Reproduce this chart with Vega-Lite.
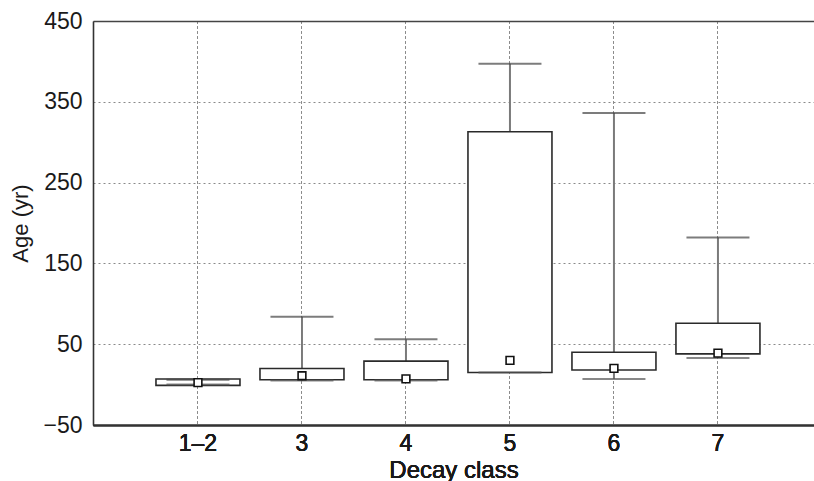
{
  "$schema": "https://vega.github.io/schema/vega-lite/v6.json",
  "autosize": {"type": "none"},
  "width": 721,
  "height": 404,
  "padding": {"left": 93, "top": 21, "right": 0, "bottom": 56},
  "background": "white",
  "config": {
    "view": {"stroke": null},
    "font": "Liberation Sans",
    "axis": {
      "labelFont": "Liberation Sans",
      "titleFont": "Liberation Sans",
      "labelColor": "#1a1a1a",
      "titleColor": "#1a1a1a",
      "labelFontSize": 23,
      "titleFontSize": 22,
      "titleFontWeight": "normal",
      "domainColor": "#333333",
      "domainWidth": 1.6,
      "gridColor": "#8a8a8a",
      "gridDash": [2, 3],
      "gridWidth": 1,
      "ticks": false
    }
  },
  "data": {
    "values": [
      {"cls": "1–2", "min": 0, "q1": -1, "med": 2.5, "q3": 7, "max": 6},
      {"cls": "3", "min": 5, "q1": 6, "med": 11, "q3": 20, "max": 84},
      {"cls": "4", "min": 5, "q1": 6, "med": 7, "q3": 29, "max": 56},
      {"cls": "5", "min": 15, "q1": 15, "med": 30, "q3": 313, "max": 397},
      {"cls": "6", "min": 7, "q1": 18, "med": 20, "q3": 40, "max": 336},
      {"cls": "7", "min": 33, "q1": 38, "med": 39, "q3": 76, "max": 182}
    ]
  },
  "encoding": {
    "x": {
      "field": "cls",
      "type": "ordinal",
      "sort": null,
      "scale": {"paddingInner": 0, "paddingOuter": 0.4665, "align": 0.546},
      "axis": {
        "orient": "bottom",
        "title": "Decay class",
        "titleFontSize": 24,
        "labelAngle": 0,
        "labelPadding": 7,
        "titlePadding": 3,
        "grid": true,
        "bandPosition": 0.5,
        "domain": true
      }
    }
  },
  "layer": [
    {
      "mark": {"type": "rule", "color": "#7a7a7a", "strokeWidth": 2},
      "encoding": {
        "y": {
          "field": "min",
          "type": "quantitative",
          "scale": {"domain": [-50, 450], "nice": false, "zero": false},
          "axis": {
            "title": "Age (yr)",
            "values": [-50, 50, 150, 250, 350, 450],
            "labelPadding": 11,
            "titlePadding": 10,
            "grid": true,
            "domain": true
          }
        },
        "y2": {"field": "max"}
      }
    },
    {
      "mark": {"type": "bar", "size": 84, "fill": "white", "stroke": "#2a2a2a", "strokeWidth": 1.6},
      "encoding": {
        "y": {"field": "q1", "type": "quantitative"},
        "y2": {"field": "q3"}
      }
    },
    {
      "mark": {"type": "tick", "size": 63, "thickness": 2, "color": "#444444", "orient": "horizontal"},
      "encoding": {
        "y": {"field": "max", "type": "quantitative"}
      }
    },
    {
      "mark": {"type": "tick", "size": 63, "thickness": 2, "color": "#555555", "orient": "horizontal"},
      "encoding": {
        "y": {"field": "min", "type": "quantitative"}
      }
    },
    {
      "mark": {"type": "point", "shape": "square", "size": 60, "filled": true, "fill": "white", "stroke": "#111111", "strokeWidth": 1.6, "opacity": 1},
      "encoding": {
        "y": {"field": "med", "type": "quantitative"}
      }
    },
    {
      "mark": {"type": "rule", "opacity": 0},
      "encoding": {
        "x": {
          "field": "cls",
          "type": "ordinal",
          "sort": null,
          "axis": {
            "orient": "top",
            "title": null,
            "labels": false,
            "grid": false,
            "domain": true,
            "domainColor": "#444444",
            "domainWidth": 1.6
          }
        }
      }
    }
  ]
}
